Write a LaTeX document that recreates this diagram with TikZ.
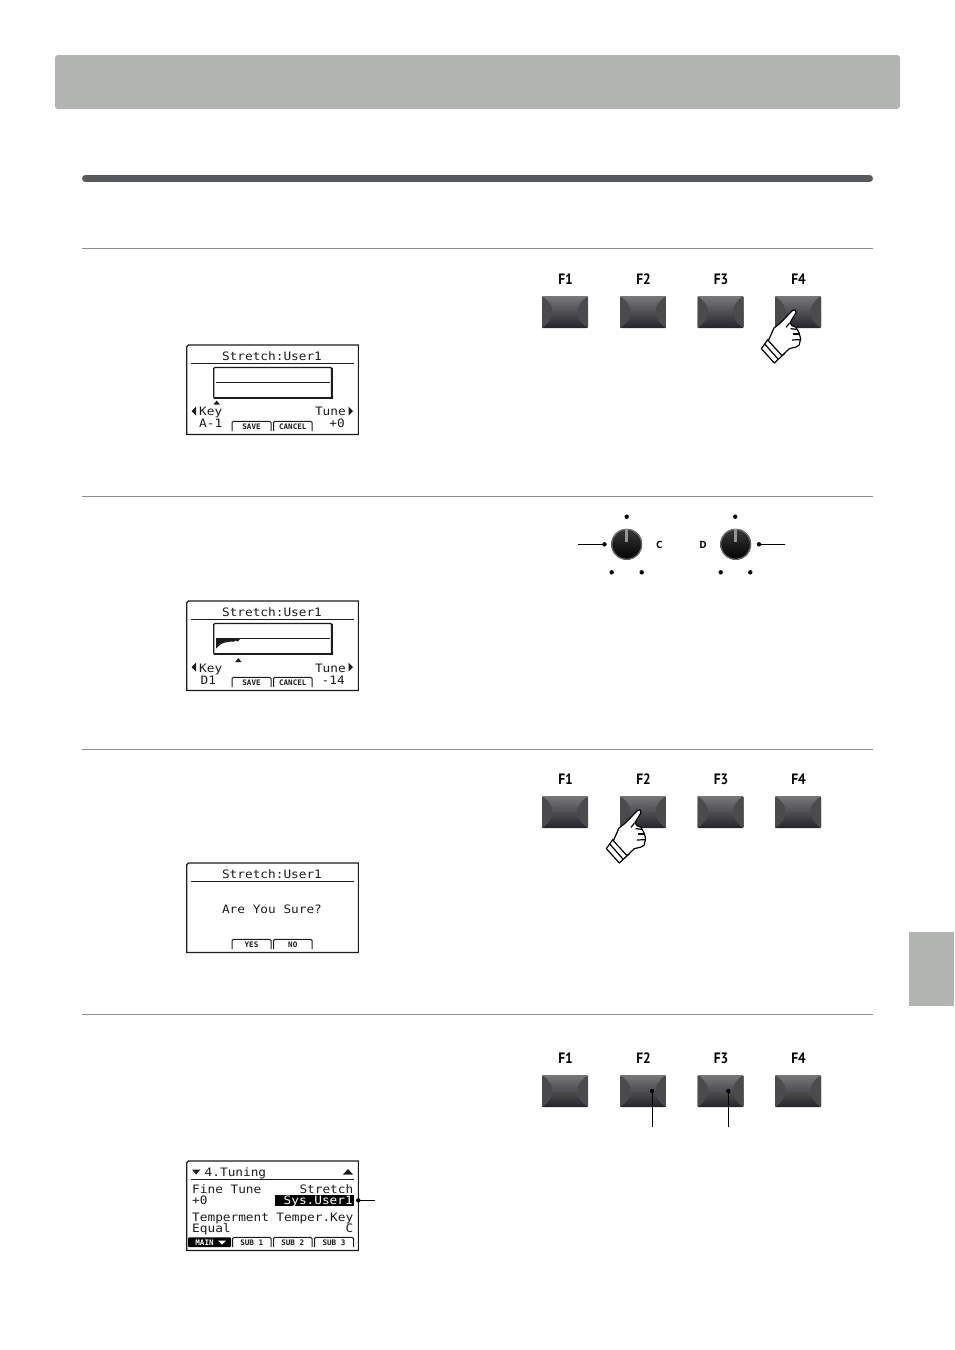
\documentclass[tikz,border=0pt]{standalone}
\usepackage{fontspec}
\newfontfamily\lcdfont{DejaVu Sans Mono}
\newfontfamily\keyfont{PT Sans}
\newfontfamily\knobfont{Open Sans}
\definecolor{band}{HTML}{B2B4B2}
\definecolor{rule}{HTML}{58595B}
\definecolor{hair}{HTML}{8A8B8D}
\definecolor{lcdink}{HTML}{1C1C1C}
\definecolor{btop}{HTML}{78787A}
\definecolor{bbot}{HTML}{26242B}
\definecolor{bside}{HTML}{4A4B4D}
\tikzset{
  hairline/.style={draw=hair,line width=0.8pt},
  fbtn/.style={rectangle,rounded corners=1pt,minimum width=46pt,minimum height=32pt,inner sep=0pt,
    top color=btop,bottom color=bbot,draw=none,
    path picture={
      \fill[bside] (path picture bounding box.north west) .. controls +(14,10) and +(14,-10) .. (path picture bounding box.south west) -- cycle;
      \fill[bside] (path picture bounding box.north east) .. controls +(-14,10) and +(-14,-10) .. (path picture bounding box.south east) -- cycle;
    }},
  flabel/.style={font=\keyfont\bfseries\fontsize{15}{15}\selectfont,inner sep=0pt,xscale=.9},
  dotn/.style={circle,fill=black,inner sep=0pt,minimum size=4.4pt},
  callout/.style={draw=black,line width=0.9pt},
  knobn/.style={circle,minimum size=31pt,inner sep=0pt,draw=none,
    top color=black!78,bottom color=black,
    path picture={\draw[black!58,line width=1.3pt] (path picture bounding box.center) circle (15pt);}},
  lcdt/.style={font=\lcdfont\fontsize{11.6}{12}\selectfont,text=lcdink,inner sep=0pt,anchor=base west,xscale=1.1},
  lcdc/.style={lcdt,anchor=base},
  lcdr/.style={lcdt,anchor=base east},
  skt/.style={font=\lcdfont\bfseries\fontsize{7.6}{8}\selectfont,text=lcdink,inner sep=0pt},
  lcdline/.style={draw=lcdink,line width=1pt},
}
% row of function keys: prefix, key centre y, label centre y
\newcommand{\fkeyrow}[3]{%
  \foreach \n/\x in {1/565,2/643,3/720.5,4/798}{%
    \node[fbtn] (#1k\n) at (\x,#2) {};
    \node[flabel] (#1l\n) at (\x+0.6,#3) {F\n};
  }%
}
\newcommand{\lcdframe}{%
  \draw[line width=1.1pt,draw=lcdink] (188.5,345) -- (358.3,345) -- (358.3,434.5) -- (186.7,434.5) -- (186.7,346.8) -- cycle;
  \draw[lcdline] (191,363.3) -- (353.7,363.3);
}
\newcommand{\softkey}[4]{%
  \draw[lcdline] (#2,431) -- (#2,422.5) -- ({#2+1.5},421.3) -- ({#3-1.5},421.3) -- (#3,422.5) -- (#3,431);
  \node[skt] (#1) at ({(#2+#3)/2},426.6) {#4};
}
\newcommand{\graphbox}{%
  \draw[line width=1.3pt,draw=lcdink,rounded corners=1pt] (213.8,367.5) rectangle (331.6,398.3);
  \draw[line width=2.2pt,draw=lcdink] (331.6,367.5) -- (331.6,398.3) -- (213.8,398.3);
  \draw[lcdline] (216,382.8) -- (330,382.8);
}
\newcommand{\arrowsL}{\fill[lcdink] (191.5,411) -- (196,406.5) -- (196,415.5) -- cycle;}
\newcommand{\arrowsR}{\fill[lcdink] (353,411) -- (348.5,406.5) -- (348.5,415.5) -- cycle;}
\newcommand{\handicon}[2]{%
  \begin{scope}[shift={(#1,#2)},x=0.3333pt,y=-0.3333pt,line width=1.2pt,line join=round,draw=black,fill=white]
    \filldraw (54,148) -- (34,176) -- (73,219) -- (104,190) -- cycle;
    \draw (44,162) -- (84,207);
    \filldraw (128,61) .. controls (133,57) and (140,60) .. (138,68)
      -- (120,98) -- (126,107) -- (138,112) -- (147,128) -- (152,146) -- (147,166) -- (138,171) -- (118,176) -- (96,197)
      -- (55,152) -- (72,114) -- (90,100) -- cycle;
    \draw (118,100) -- (108,112);
    \draw (122,116) -- (140,118);
    \draw (128,132) -- (148,132);
    \draw (126,150) -- (150,149);
  \end{scope}%
}
\begin{document}
\begin{tikzpicture}[x=1pt,y=-1pt]
\useasboundingbox (0,0) rectangle (954,1350);
\fill[white] (0,0) rectangle (954,1350);
\fill[band,rounded corners=3pt] (55,55) rectangle (900,109);
\fill[band] (909,932) rectangle (954,1006);
\draw[rule,line width=7pt,line cap=round] (85.5,178.5) -- (869.5,178.5);
\foreach \yy in {248.5,496.5,749.5,1014.5}{\draw[hairline] (82,\yy) -- (873,\yy);}
\fkeyrow{a}{312}{279}
\fkeyrow{c}{812}{779}
\fkeyrow{d}{1091}{1058}
\handicon{750}{290}
\handicon{595}{790}
\node[knobn] (knobC) at (626.7,544.3) {};
\node[knobn] (knobD) at (735.7,544.3) {};
\fill[black!42] (625.3,529) rectangle (628.1,542);
\fill[black!42] (734.3,529) rectangle (737.1,542);
\node[dotn] (c1) at (626.7,516.7) {};
\node[dotn] (c2) at (611.7,572.3) {};
\node[dotn] (c3) at (641.7,572.3) {};
\node[dotn] (c4) at (604.5,544.3) {};
\node[dotn] (d1) at (735.2,516.7) {};
\node[dotn] (d2) at (720.7,572.3) {};
\node[dotn] (d3) at (750.3,572.3) {};
\node[dotn] (d4) at (759,544.3) {};
\coordinate (c4e) at (577.7,544.3);
\coordinate (d4e) at (785,544.3);
\draw[callout] (c4.center) -- (c4e);
\draw[callout] (d4.center) -- (d4e);
\node[font=\knobfont\bfseries\fontsize{10}{10}\selectfont,inner sep=0pt] (lblC) at (659.3,545) {C};
\node[font=\knobfont\bfseries\fontsize{10}{10}\selectfont,inner sep=0pt] (lblD) at (703,545) {D};
\node[dotn] (e2) at (652,1091) {};
\node[dotn] (e3) at (728.3,1091) {};
\coordinate (e2e) at (652,1126.5);
\coordinate (e3e) at (728.3,1126.5);
\draw[callout] (e2.center) -- (e2e);
\draw[callout] (e3.center) -- (e3e);
% LCD 1
\lcdframe \graphbox \arrowsL \arrowsR
\fill[lcdink] (216.7,400.5) -- (213.6,404.5) -- (219.8,404.5) -- cycle;
\node[lcdc] (t1a) at (272,360) {Stretch:User1};
\node[lcdt] (t1b) at (199,415) {Key};
\node[lcdt] (t1c) at (199,427) {A-1};
\node[lcdr] (t1d) at (346,415) {Tune};
\node[lcdr] (t1e) at (345,427) {+0};
\softkey{t1f}{232}{271}{SAVE}
\softkey{t1g}{273.5}{312}{CANCEL}
% LCD 2
\begin{scope}[yshift=-256pt]
\lcdframe \graphbox \arrowsL \arrowsR
\fill[lcdink] (216,383) -- (216,392.5) -- (218,390.5) -- (221,388) -- (225,386.5) -- (231,385.5) -- (234,385.8) -- (235,384.5) -- (238,385.5) -- (240,383) -- cycle;
\fill[lcdink] (238.3,402) -- (235.2,406) -- (241.4,406) -- cycle;
\node[lcdc] (t2a) at (272,360) {Stretch:User1};
\node[lcdt] (t2b) at (199,416) {Key};
\node[lcdt] (t2c) at (200.5,428) {D1};
\node[lcdr] (t2d) at (346,416) {Tune};
\node[lcdr] (t2e) at (345,428) {-14};
\softkey{t2f}{232}{271}{SAVE}
\softkey{t2g}{273.5}{312}{CANCEL}
\end{scope}
% LCD 3
\begin{scope}[yshift=-518pt]
\lcdframe
\node[lcdc] (t3a) at (272,360) {Stretch:User1};
\node[lcdc] (t3b) at (272,395.5) {Are You Sure?};
\softkey{t3c}{232}{271}{YES}
\softkey{t3d}{273.5}{312}{NO}
\end{scope}
% LCD 4
\begin{scope}[yshift=-816pt]
\lcdframe
\fill[lcdink] (192,353.5) -- (200.5,353.5) -- (196.2,358.5) -- cycle;
\fill[lcdink] (343,358.5) -- (353,358.5) -- (348,353) -- cycle;
\node[lcdt] (t4a) at (204.5,360) {4.Tuning};
\node[lcdt] (t4b) at (192,377) {Fine Tune};
\node[lcdr] (t4c) at (353.5,377) {Stretch};
\node[lcdt] (t4d) at (192,388.5) {+0};
\node[fill=black,minimum width=79pt,minimum height=10.5pt,inner sep=0pt] (t4hl) at (314.5,384.4) {};
\node[lcdr,text=white] (t4e) at (353,388.5) {Sys.User1};
\node[lcdt] (t4f) at (192,405) {Temperment};
\node[lcdr] (t4g) at (353.5,405) {Temper.Key};
\node[lcdt] (t4h) at (192,416.5) {Equal};
\node[lcdr] (t4i) at (353.5,416.5) {C};
\fill[black,rounded corners=1pt] (188,421.3) rectangle (231,431);
\node[skt,text=white] (t4j) at (204.5,426.6) {MAIN};
\fill[white] (218,424.5) -- (226,424.5) -- (222,428.5) -- cycle;
\softkey{t4k}{232.5}{271}{SUB 1}
\softkey{t4l}{273.5}{312}{SUB 2}
\softkey{t4m}{314.5}{353.5}{SUB 3}
\node[dotn] (t4dot) at (358.3,384.4) {};
\coordinate (t4end) at (375,384.4);
\draw[callout] (t4dot.center) -- (t4end);
\end{scope}
\end{tikzpicture}
\end{document}
